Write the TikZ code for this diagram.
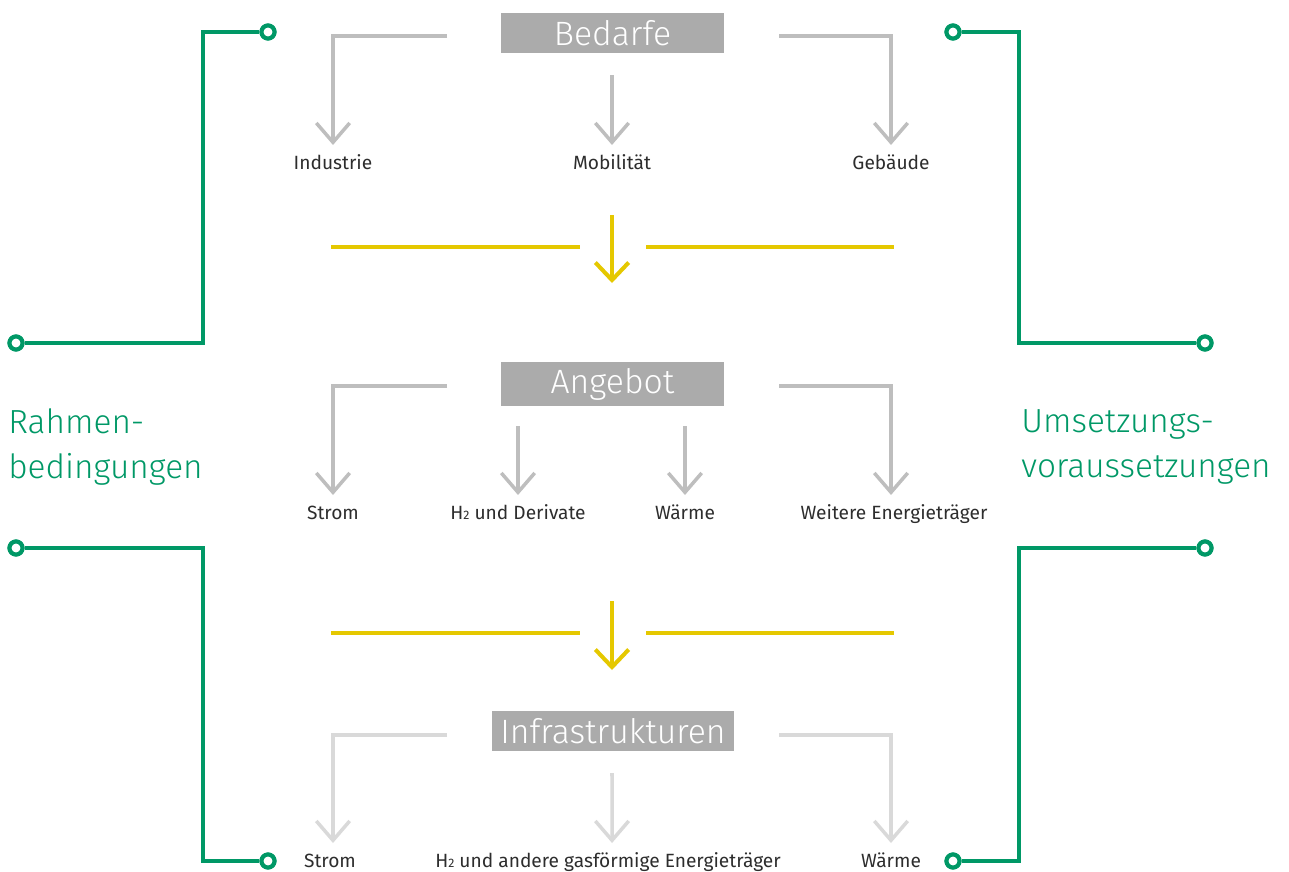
\documentclass[tikz,border=0pt]{standalone}
\usepackage{fontspec}
\setmainfont{Fira Sans}
\IfFontExistsTF{Fira Sans Light}{\newfontfamily\lightfont{Fira Sans Light}}{\newfontfamily\lightfont{Fira Sans}}
\usetikzlibrary{arrows.meta}
\definecolor{rbgreen}{RGB}{0,152,102}
\definecolor{boxgray}{RGB}{171,171,171}
\definecolor{arrowgray}{RGB}{190,190,190}
\definecolor{lightgray}{RGB}{217,217,217}
\definecolor{flowyellow}{RGB}{229,200,0}
\definecolor{textdark}{RGB}{45,45,45}
\begin{document}
\begin{tikzpicture}[x=0.02cm, y=-0.02cm,
  greenline/.style={draw=rbgreen, line width=2.3pt},
  dot/.style={circle, draw=rbgreen, line width=2.3pt, fill=white, inner sep=0pt, minimum size=7.4pt},
  sidetext/.style={text=rbgreen, font=\lightfont\fontsize{19}{25.5}\selectfont, align=left, anchor=west, inner sep=0pt},
  titlebox/.style={fill=boxgray, text=white, font=\lightfont\fontsize{19.2}{20}\selectfont, minimum height=22.7pt, minimum width=126.4pt, inner xsep=2pt},
  itemtext/.style={text=textdark, font=\fontsize{10.9}{12}\selectfont, anchor=north, inner xsep=0pt, inner ysep=5pt, text height=8.6pt, text depth=2pt},
  grayarrow/.style={draw=arrowgray, line width=2pt, -{Straight Barb[length=11pt,width=19pt]}},
  yellowline/.style={draw=flowyellow, line width=2.3pt},
  yellowarrow/.style={yellowline, -{Straight Barb[length=10pt,width=19pt]}}]
\useasboundingbox (0,0) rectangle (1289,872);

% green frame
\node[dot] (lTop) at (268,32) {};
\node[dot] (lUp) at (16,343) {};
\node[dot] (lLow) at (16,548) {};
\node[dot] (lBot) at (268,861) {};
\node[dot] (rTop) at (953,32) {};
\node[dot] (rUp) at (1205,343) {};
\node[dot] (rLow) at (1205,548) {};
\node[dot] (rBot) at (953,861) {};
\coordinate (lx) at (203,0);
\coordinate (rx) at (1019,0);
\draw[greenline] (lTop) -| (lx |- lUp) -- (lUp);
\draw[greenline] (lLow) -| (lx |- lBot) -- (lBot);
\draw[greenline] (rTop) -| (rx |- rUp) -- (rUp);
\draw[greenline] (rLow) -| (rx |- rBot) -- (rBot);
\node[dot] at (lTop) {};
\node[dot] at (lUp) {};
\node[dot] at (lLow) {};
\node[dot] at (lBot) {};
\node[dot] at (rTop) {};
\node[dot] at (rUp) {};
\node[dot] at (rLow) {};
\node[dot] at (rBot) {};

\node[sidetext] (rahmen) at (8,447) {Rahmen-\\bedingungen};
\node[sidetext] (umsetz) at (1021,447) {Umsetzungs-\\voraussetzungen};

% Bedarfe
\node[titlebox] (bedarfe) at (612.5,33) {Bedarfe};
\coordinate (bL) at (447,36);
\coordinate (bM) at (612,75);
\coordinate (bR) at (779,36);
\node[itemtext] (ind) at (333,145) {Industrie};
\node[itemtext] (mob) at (612,145) {Mobilität};
\node[itemtext] (geb) at (891,145) {Gebäude};
\draw[grayarrow] (bL) -| (ind);
\draw[grayarrow] (bM) -- (mob);
\draw[grayarrow] (bR) -| (geb);

% first step
\coordinate (y1a) at (331,247);
\coordinate (y1b) at (580,247);
\coordinate (y1c) at (646,247);
\coordinate (y1d) at (894,247);
\coordinate (y1s) at (612,215);
\coordinate (y1e) at (612,283);
\draw[yellowline] (y1a) -- (y1b);
\draw[yellowline] (y1c) -- (y1d);
\draw[yellowarrow] (y1s) -- (y1e);

% Angebot
\node[titlebox] (angebot) at (612.5,384) {Angebot};
\coordinate (aL) at (447,386);
\coordinate (aM1) at (518,426);
\coordinate (aM2) at (685,426);
\coordinate (aR) at (779,386);
\node[itemtext] (aStrom) at (333,495) {Strom};
\node[itemtext] (aH2) at (518,495) {H{\scriptsize 2} und Derivate};
\node[itemtext] (aWaerme) at (685,495) {Wärme};
\node[itemtext] (aWeitere) at (894,495) {Weitere Energieträger};
\draw[grayarrow] (aL) -| (aStrom);
\draw[grayarrow] (aM1) -- (aH2);
\draw[grayarrow] (aM2) -- (aWaerme);
\draw[grayarrow] (aR) -| ([xshift=-1.7pt]aWeitere.north);

% second step
\coordinate (y2a) at (331,633);
\coordinate (y2b) at (580,633);
\coordinate (y2c) at (646,633);
\coordinate (y2d) at (894,633);
\coordinate (y2s) at (612,601);
\coordinate (y2e) at (612,670);
\draw[yellowline] (y2a) -- (y2b);
\draw[yellowline] (y2c) -- (y2d);
\draw[yellowarrow] (y2s) -- (y2e);

% Infrastrukturen
\node[titlebox, minimum width=138.3pt] (infra) at (613,731) {Infrastrukturen};
\coordinate (iL) at (447,735);
\coordinate (iM) at (612,773);
\coordinate (iR) at (779,735);
\node[itemtext] (iStrom) at (330,843) {Strom};
\node[itemtext] (iGas) at (608,843) {H{\scriptsize 2} und andere gasförmige Energieträger};
\node[itemtext] (iWaerme) at (891,843) {Wärme};
\draw[grayarrow, draw=lightgray] (iL) -| ([xshift=1.7pt]iStrom.north);
\draw[grayarrow, draw=lightgray] (iM) -- ([xshift=2.3pt]iGas.north);
\draw[grayarrow, draw=lightgray] (iR) -| (iWaerme);
\end{tikzpicture}
\end{document}
